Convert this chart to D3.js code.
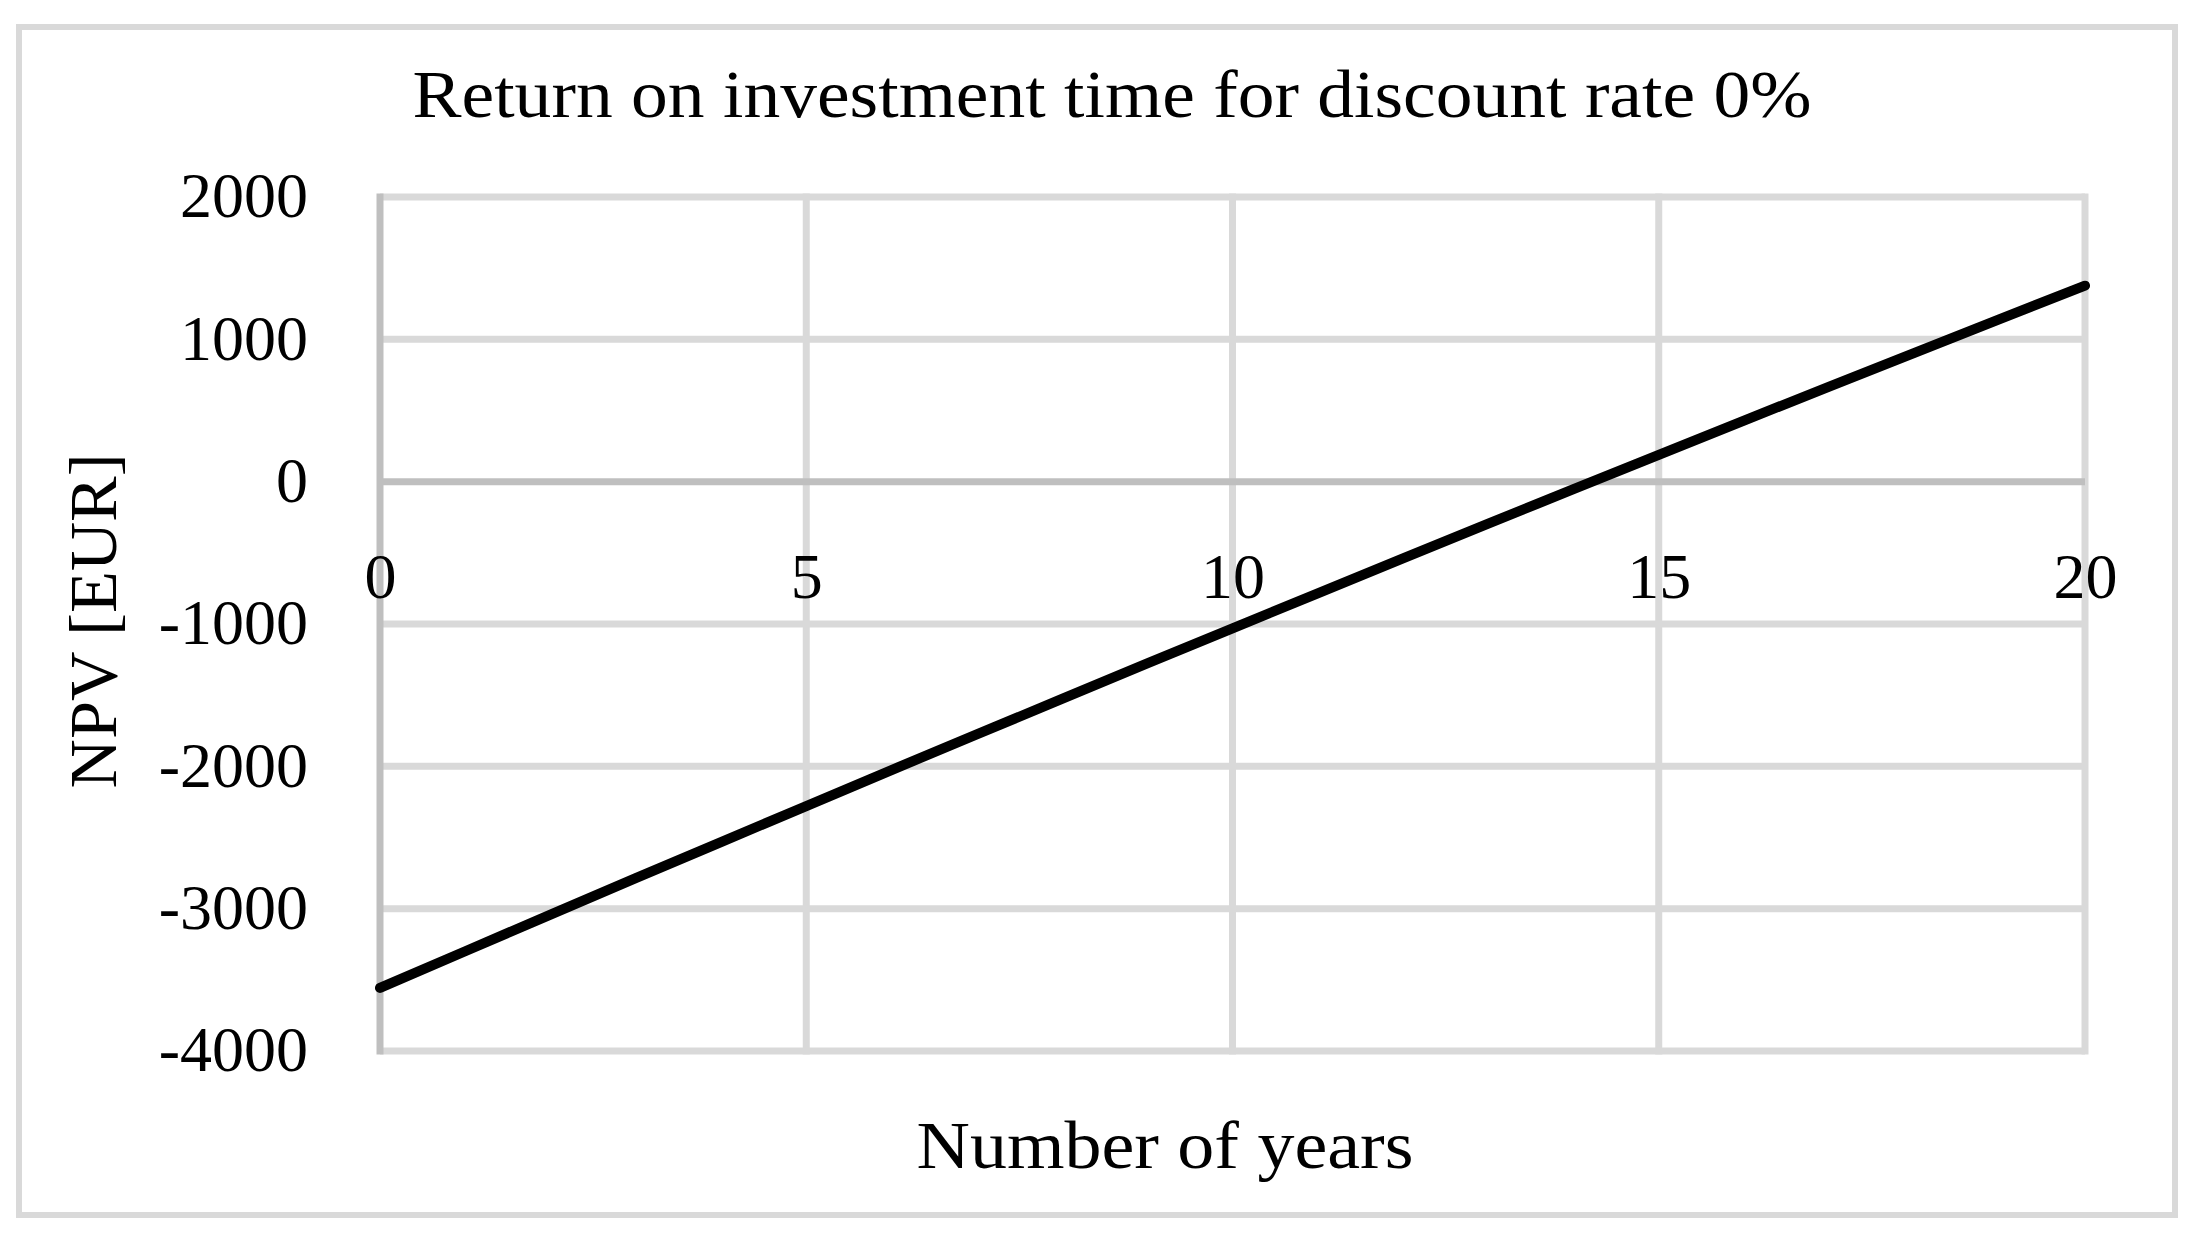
<!DOCTYPE html>
<html>
<head>
<meta charset="utf-8">
<script src="https://cdn.jsdelivr.net/npm/d3@7"></script>
<style>
  html, body { margin: 0; padding: 0; background: #fff; }
  svg { display: block; }
  text { font-family: "Liberation Serif", "Times New Roman", serif; fill: #000; }
</style>
</head>
<body>
<svg id="chart" width="2208" height="1240"></svg>
<script>
// ---- data ----
const title = "Return on investment time for discount rate 0%";
const xLabel = "Number of years";
const yLabel = "NPV [EUR]";
const years = [0,1,2,3,4,5,6,7,8,9,10,11,12,13,14,15,16,17,18,19,20];
const npv = [-3557,-3299,-3042,-2786,-2532,-2279,-2026,-1776,-1526,-1277,-1030,-784,-539,-295,-53,189,429,668,905,1142,1377];
const xTicks = [0,5,10,15,20];
const yTicks = [-4000,-3000,-2000,-1000,0,1000,2000];

// ---- layout ----
const W = 2208, H = 1240;
const plot = { left: 380, right: 2085, top: 197, bottom: 1051 };
const fontSize = 64;
const gridColor = "#d9d9d9", axisColor = "#bfbfbf";

const svg = d3.select("#chart");
svg.append("rect").attr("width", W).attr("height", H).attr("fill", "#fff");

// outer frame
svg.append("rect")
  .attr("x", 19).attr("y", 27).attr("width", 2156).attr("height", 1188)
  .attr("fill", "none").attr("stroke", gridColor).attr("stroke-width", 6);

const x = d3.scaleLinear().domain([0, 20]).range([plot.left, plot.right]);
const y = d3.scaleLinear().domain([-4000, 2000]).range([plot.bottom, plot.top]);

// horizontal gridlines (except zero which is the axis)
svg.append("g").selectAll("line")
  .data(yTicks.filter(d => d !== 0))
  .join("line")
  .attr("x1", plot.left).attr("x2", plot.right)
  .attr("y1", d => y(d)).attr("y2", d => y(d))
  .attr("stroke", gridColor).attr("stroke-width", 7);

// vertical gridlines
svg.append("g").selectAll("line")
  .data(xTicks.filter(d => d !== 0))
  .join("line")
  .attr("x1", d => x(d)).attr("x2", d => x(d))
  .attr("y1", plot.top - 3.5).attr("y2", plot.bottom + 3.5)
  .attr("stroke", gridColor).attr("stroke-width", 7);

// zero axis (horizontal)
svg.append("line")
  .attr("x1", plot.left).attr("x2", plot.right)
  .attr("y1", y(0)).attr("y2", y(0))
  .attr("stroke", axisColor).attr("stroke-width", 7);

// y axis line
svg.append("line")
  .attr("x1", x(0)).attr("x2", x(0))
  .attr("y1", plot.top - 3.5).attr("y2", plot.bottom + 3.5)
  .attr("stroke", axisColor).attr("stroke-width", 7);

// y tick labels via d3 axis
const yAxis = d3.axisLeft(y).tickValues(yTicks).tickSize(0).tickPadding(0).tickFormat(d => String(d));
const gy = svg.append("g").attr("transform", `translate(${plot.left - 72},0)`).call(yAxis);
gy.select(".domain").remove();
gy.selectAll("text")
  .attr("font-size", fontSize)
  .attr("font-family", "'Liberation Serif', serif")
  .attr("fill", "#000")
  .attr("dy", "0.31em")
  .attr("x", 0);

// x tick labels via d3 axis, positioned below zero line
const xAxis = d3.axisBottom(x).tickValues(xTicks).tickSize(0).tickPadding(0).tickFormat(d => String(d));
const gx = svg.append("g").attr("transform", `translate(0,${y(0)})`).call(xAxis);
gx.select(".domain").remove();
gx.selectAll("text")
  .attr("font-size", fontSize)
  .attr("font-family", "'Liberation Serif', serif")
  .attr("fill", "#000")
  .attr("dy", null)
  .attr("y", 116);

// series line
const line = d3.line().x((d, i) => x(years[i])).y(d => y(d));
svg.append("path")
  .datum(npv)
  .attr("d", line)
  .attr("fill", "none")
  .attr("stroke", "#000")
  .attr("stroke-width", 10)
  .attr("stroke-linecap", "round")
  .attr("stroke-linejoin", "round");

// title
svg.append("text")
  .attr("x", 1112).attr("y", 117)
  .attr("text-anchor", "middle")
  .attr("font-size", 68)
  .attr("textLength", 1399)
  .attr("lengthAdjust", "spacingAndGlyphs")
  .text(title);

// x label
svg.append("text")
  .attr("x", 1165).attr("y", 1168)
  .attr("text-anchor", "middle")
  .attr("font-size", 68)
  .attr("textLength", 497)
  .attr("lengthAdjust", "spacingAndGlyphs")
  .text(xLabel);

// y label
svg.append("text")
  .attr("transform", "translate(116,621) rotate(-90)")
  .attr("text-anchor", "middle")
  .attr("font-size", 68)
  .attr("textLength", 335)
  .attr("lengthAdjust", "spacingAndGlyphs")
  .text(yLabel);
</script>
</body>
</html>
